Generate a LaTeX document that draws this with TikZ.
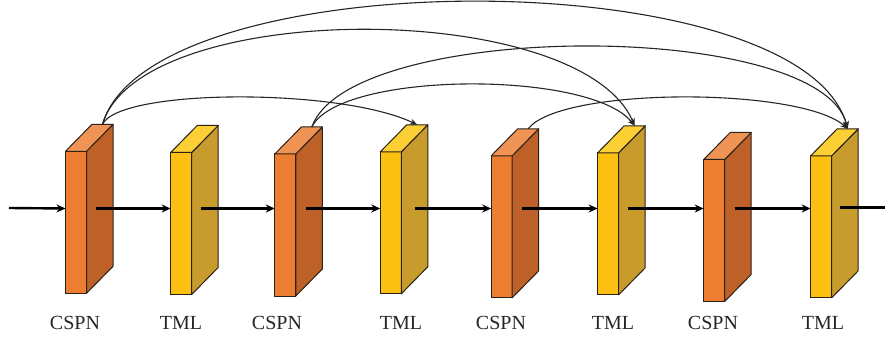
\documentclass[tikz,border=0pt]{standalone}
\usepackage{fontspec}
\setmainfont{Liberation Serif}
\usetikzlibrary{arrows.meta}
\definecolor{cfront}{HTML}{ED7D31}
\definecolor{cside}{HTML}{BE6128}
\definecolor{ctop}{HTML}{F09456}
\definecolor{tfront}{HTML}{FCC012}
\definecolor{tside}{HTML}{C89B2D}
\definecolor{ttop}{HTML}{FCCF34}
\definecolor{edgec}{HTML}{2A2118}
\definecolor{labc}{HTML}{262626}
\tikzset{
  blockfront/.style={draw=edgec, line width=1pt, minimum width=21pt, minimum height=142pt, inner sep=0pt, outer sep=0pt, rectangle},
  blockedge/.style={draw=edgec, line width=1pt, line join=round},
  flow/.style={line width=2.4pt, black, -{Stealth[length=9pt,width=8pt]}},
  flowend/.style={line width=2.4pt, black},
  skip/.style={line width=1.1pt, black!85, -{Stealth[length=7.5pt,width=6pt]}},
  lab/.style={font=\fontsize{20}{22}\selectfont, text=labc, anchor=base, inner sep=0pt}
}
\newcommand\drawblock[6]{%
  \node[blockfront, fill=#4] (#1) at (#2,#3) {};
  \filldraw[blockedge, fill=#5] (#1.north east) -- ++(26.5,-27) -- ++(0,142) -- (#1.south east) -- cycle;
  \filldraw[blockedge, fill=#6] (#1.north west) -- ++(26.5,-27) -- ++(21,0) -- (#1.north east) -- cycle;
  \coordinate (#1t) at ([shift={(26.5,-27)}]#1.north);
}
\begin{document}
\begin{tikzpicture}[x=1pt,y=-1pt]
\useasboundingbox (0,0) rectangle (885,339);
% blocks
\drawblock{b1}{76}{222.3}{cfront}{cside}{ctop}
\drawblock{b2}{181.2}{223.5}{tfront}{tside}{ttop}
\drawblock{b3}{285.3}{225}{cfront}{cside}{ctop}
\drawblock{b4}{390.8}{222.8}{tfront}{tside}{ttop}
\drawblock{b5}{501.7}{226.8}{cfront}{cside}{ctop}
\drawblock{b6}{608.2}{223.8}{tfront}{tside}{ttop}
\drawblock{b7}{714.2}{230.5}{cfront}{cside}{ctop}
\drawblock{b8}{821.2}{226.8}{tfront}{tside}{ttop}
% labels
\node[lab] (l1) at (75,329) {CSPN};
\node[lab] (l2) at (181,329) {TML};
\node[lab] (l3) at (277,329) {CSPN};
\node[lab] (l4) at (401,329) {TML};
\node[lab] (l5) at (501,329) {CSPN};
\node[lab] (l6) at (613,329) {TML};
\node[lab] (l7) at (713,329) {CSPN};
\node[lab] (l8) at (823,329) {TML};
% main flow
\coordinate (ay) at (0,208.5);
\coordinate (in) at (9,208);
\coordinate (out) at (885,207.5);
\draw[flow] (in) -- (b1.west |- ay);
\draw[flow] ([xshift=9pt]b1.east |- ay) -- (b2.west |- ay);
\draw[flow] ([xshift=9pt]b2.east |- ay) -- (b3.west |- ay);
\draw[flow] ([xshift=10pt]b3.east |- ay) -- (b4.west |- ay);
\draw[flow] ([xshift=14pt]b4.east |- ay) -- (b5.west |- ay);
\draw[flow] ([xshift=9.5pt]b5.east |- ay) -- (b6.west |- ay);
\draw[flow] ([xshift=9.5pt]b6.east |- ay) -- (b7.west |- ay);
\draw[flow] ([xshift=10pt]b7.east |- ay) -- (b8.west |- ay);
\draw[flowend] ([xshift=8.5pt]b8.east |- out) -- (out);
% skip connections
\draw[skip] (b1t) .. controls +(47.5,-164) and +(-47.7,-169) .. (b8t);
\draw[skip] (b1t) .. controls +(37.5,-126) and +(-54.7,-128) .. (b6t);
\draw[skip] (b1t) .. controls +(17.5,-36) and +(-77,-37) .. (b4t);
\draw[skip] (b3t) .. controls +(28,-56) and +(-44.7,-56) .. (b6t);
\draw[skip] (b3t) .. controls +(38,-107) and +(-27.7,-110) .. (b8t);
\draw[skip] (b5t) .. controls +(32,-42) and +(-47.7,-42) .. (b8t);
\end{tikzpicture}
\end{document}
